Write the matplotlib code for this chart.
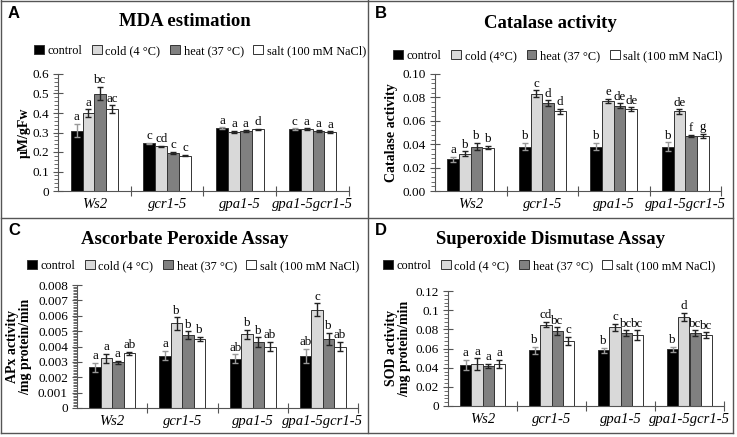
import matplotlib
matplotlib.use("Agg")
import matplotlib.pyplot as plt
from matplotlib.ticker import MultipleLocator, AutoMinorLocator, FixedLocator, NullFormatter
from matplotlib.lines import Line2D
import numpy as np

plt.rcParams['font.family'] = ['Liberation Serif', 'DejaVu Serif']

genotypes = ['Ws2', 'gcr1-5', 'gpa1-5', 'gpa1-5gcr1-5']
treatments = ['control', 'cold (4 °C)', 'heat (37 °C)', 'salt (100 mM NaCl)']
treatments_b = ['control', 'cold (4°C)', 'heat (37 °C)', 'salt (100 mM NaCl)']
bar_colors = ['#000000', '#d9d9d9', '#808080', '#ffffff']

# MDA estimation (rows = genotypes, cols = treatments)
mda = [[0.31, 0.40, 0.50, 0.42],
       [0.245, 0.23, 0.197, 0.182],
       [0.322, 0.305, 0.308, 0.316],
       [0.318, 0.317, 0.308, 0.303]]
mda_err = [[0.035, 0.02, 0.035, 0.02],
           [0.003, 0.003, 0.005, 0.004],
           [0.005, 0.005, 0.004, 0.004],
           [0.003, 0.004, 0.004, 0.004]]
mda_letters = [['a', 'a', 'bc', 'ac'], ['c', 'cd', 'c', 'c'],
               ['a', 'a', 'a', 'd'], ['c', 'a', 'a', 'a']]

# Catalase activity
cat = [[0.027, 0.032, 0.038, 0.037],
       [0.038, 0.083, 0.075, 0.068],
       [0.038, 0.077, 0.073, 0.070],
       [0.038, 0.068, 0.047, 0.047]]
cat_err = [[0.002, 0.002, 0.003, 0.0015],
           [0.003, 0.003, 0.0025, 0.0022],
           [0.003, 0.0017, 0.002, 0.0017],
           [0.0035, 0.002, 0.001, 0.002]]
cat_letters = [['a', 'b', 'b', 'b'], ['b', 'c', 'd', 'd'],
               ['b', 'e', 'de', 'de'], ['b', 'de', 'f', 'g']]

# Ascorbate peroxide assay
apx = [[0.00265, 0.00322, 0.00298, 0.00355],
       [0.0034, 0.0055, 0.00475, 0.0045],
       [0.0032, 0.0048, 0.0043, 0.0040],
       [0.0034, 0.0064, 0.0045, 0.0040]]
apx_err = [[0.0003, 0.0003, 0.0001, 0.0001],
           [0.0003, 0.0004, 0.00025, 0.00015],
           [0.0003, 0.0003, 0.0003, 0.0003],
           [0.00045, 0.0004, 0.0004, 0.0003]]
apx_letters = [['a', 'a', 'a', 'ab'], ['a', 'b', 'b', 'b'],
               ['ab', 'b', 'b', 'ab'], ['ab', 'c', 'b', 'ab']]

# Superoxide dismutase assay
sod = [[0.043, 0.044, 0.042, 0.044],
       [0.058, 0.085, 0.078, 0.068],
       [0.058, 0.082, 0.076, 0.074],
       [0.059, 0.093, 0.076, 0.074]]
sod_err = [[0.005, 0.006, 0.002, 0.004],
           [0.004, 0.003, 0.004, 0.004],
           [0.003, 0.004, 0.003, 0.005],
           [0.003, 0.004, 0.003, 0.003]]
sod_letters = [['a', 'a', 'a', 'a'], ['b', 'cd', 'bc', 'c'],
               ['b', 'c', 'bc', 'bc'], ['b', 'd', 'bc', 'bc']]

W, H = 737, 437
fig = plt.figure(figsize=(W / 100, H / 100), dpi=100)

# panel frames
frame = dict(color='#555555', lw=1, transform=fig.transFigure)
for xs, ys in [([1, 733], [H - 0.5, H - 0.5]), ([1, 733], [H - 433, H - 433]),
               ([1, 1], [H, H - 433]), ([733, 733], [H, H - 433]),
               ([368, 368], [H, H - 433]), ([1, 733], [H - 218, H - 218])]:
    fig.add_artist(Line2D([x / W for x in xs], [y / H for y in ys], **frame))


def panel(box, corner, letter, title, vals, errs, letters, ymax, major, nminor,
          fmt, ylabel, ylab_x, title_y, leg_xy, labels):
    left, right, y0, y1 = box
    fx0, fy0, fx1 = corner
    ax = fig.add_axes([left / W, (H - y0) / H, (right - left) / W, (y0 - y1) / H])
    vals = np.array(vals)
    errs = np.array(errs)
    bw = 0.163
    x = np.arange(len(genotypes))
    for j in range(len(treatments)):
        xj = x + (j - 1.5) * bw
        ax.bar(xj, vals[:, j], bw, color=bar_colors[j], edgecolor='#333333',
               lw=0.7, label=labels[j], zorder=2)
        ax.errorbar(xj, vals[:, j], yerr=errs[:, j], fmt='none',
                    ecolor='#999999' if j == 0 else '#222222',
                    elinewidth=1, capsize=2.5, capthick=1, zorder=3)
        for i in range(len(genotypes)):
            ax.text(xj[i], vals[i, j] + errs[i, j] + ymax * 0.005, letters[i][j],
                    ha='center', va='bottom', fontsize=9.3)
    ax.set_xlim(-0.5, 3.5)
    ax.set_ylim(0, ymax)
    ax.yaxis.set_major_locator(MultipleLocator(major))
    ax.yaxis.set_minor_locator(AutoMinorLocator(nminor))
    ax.set_yticklabels([fmt.format(v) for v in ax.get_yticks()])
    ax.xaxis.set_major_locator(FixedLocator([0.5, 1.5, 2.5, 3.5]))
    ax.xaxis.set_major_formatter(NullFormatter())
    ax.xaxis.set_minor_locator(FixedLocator(x))
    ax.set_xticklabels(genotypes, minor=True, fontstyle='italic', fontsize=10.5)
    ax.tick_params(axis='x', which='minor', length=0, pad=5)
    ax.tick_params(axis='x', which='major', direction='inout', length=7,
                   color='#555555')
    ax.tick_params(axis='y', which='major', direction='inout', length=7,
                   color='#555555', labelsize=9.5, pad=3)
    ax.tick_params(axis='y', which='minor', direction='out', length=3,
                   color='#555555')
    for s in ['top', 'right']:
        ax.spines[s].set_visible(False)
    for s in ['left', 'bottom']:
        ax.spines[s].set_color('#555555')
    fig.text((fx0 + fx1) / 2 / W, 1 - title_y / H, title, ha='center',
             va='center', fontsize=13.5, fontweight='bold')
    fig.text((fx0 + 7) / W, 1 - (fy0 + 13) / H, letter, ha='left', va='center',
             fontsize=12, fontweight='bold', family='Liberation Sans')
    fig.text(ylab_x / W, 1 - (y0 + y1) / 2 / H, ylabel, ha='center', va='center',
             rotation=90, fontsize=10, fontweight='bold', linespacing=1.0)
    ax.legend(loc='center', bbox_to_anchor=(leg_xy[0] / W, 1 - leg_xy[1] / H),
              bbox_transform=fig.transFigure, ncol=4, frameon=False,
              fontsize=8.8, handlelength=0.8, handleheight=0.8,
              handletextpad=0.3, columnspacing=0.8, borderpad=0)
    return ax


panel((58, 349, 191, 74), (1, 0, 368), 'A', 'MDA estimation', mda, mda_err,
      mda_letters, 0.6, 0.1, 5, '{:g}', 'μM/gFw', 24, 22, (200, 51), treatments)
panel((435, 721, 191, 74), (368, 0, 733), 'B', 'Catalase activity', cat, cat_err,
      cat_letters, 0.10, 0.02, 5, '{:.2f}', 'Catalase activity', 392, 23,
      (558, 56), treatments_b)
panel((77, 358, 408, 285), (1, 218, 368), 'C', 'Ascorbate Peroxide Assay', apx,
      apx_err, apx_letters, 0.008, 0.001, 10, '{:g}',
      'APx activity\n/mg protein/min', 19, 240, (193, 266), treatments)
panel((448, 724, 406, 291), (368, 218, 733), 'D', 'Superoxide Dismutase Assay',
      sod, sod_err, sod_letters, 0.12, 0.02, 5, '{:g}',
      'SOD activity\n/mg protein/min', 398, 240, (549, 266), treatments)

fig.savefig('out.png', dpi=100)
